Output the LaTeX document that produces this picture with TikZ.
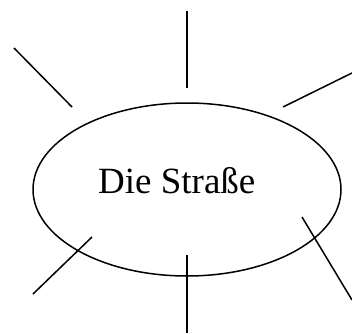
\documentclass[tikz,border=0pt]{standalone}
\usepackage{fontspec}
\setmainfont{Liberation Serif}
\usetikzlibrary{shapes.geometric}
\begin{document}
\begin{tikzpicture}[x=1pt,y=1pt,
  ray/.style={line width=1.5pt, line cap=butt},
  oval/.style={ellipse, draw, line width=1.5pt, minimum width=308pt, minimum height=173pt, inner sep=0pt},
  label/.style={font=\fontsize{37}{40}\selectfont, inner sep=0pt, anchor=base west}]
\useasboundingbox (0,0) rectangle (352,333);
\node[oval] (e) at (187,143.5) {};
\node[label] (t) at (98,140) {Die Straße};
% ray end points
\coordinate (a1) at (187,322); \coordinate (a2) at (187,245);
\coordinate (b1) at (14,285); \coordinate (b2) at (72,226);
\coordinate (c1) at (283,226); \coordinate (c2) at (352,260);
\coordinate (d1) at (33,39); \coordinate (d2) at (92,96);
\coordinate (f1) at (187,78); \coordinate (f2) at (187,0);
\coordinate (g1) at (302,116); \coordinate (g2) at (352,33);
\draw[ray] (a1) -- (a2);
\draw[ray] (b1) -- (b2);
\draw[ray] (c1) -- (c2);
\draw[ray] (d1) -- (d2);
\draw[ray] (f1) -- (f2);
\draw[ray] (g1) -- (g2);
\end{tikzpicture}
\end{document}
